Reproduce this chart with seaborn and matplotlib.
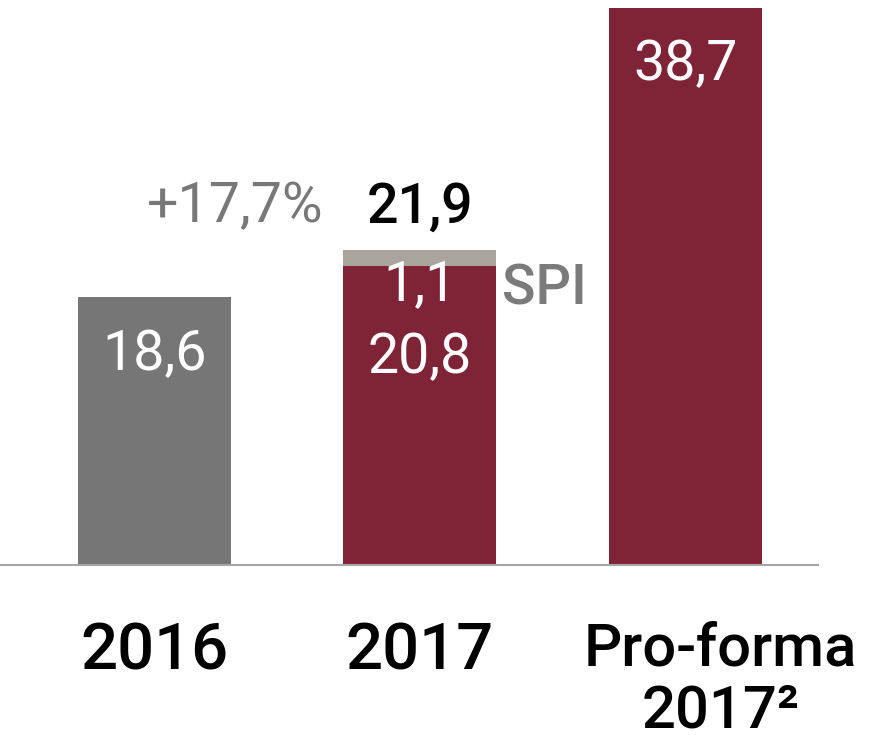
import matplotlib
matplotlib.use('Agg')
import matplotlib.pyplot as plt
import matplotlib.transforms as mtransforms
import pandas as pd
import seaborn as sns

sns.set_style('white')
plt.rcParams['font.family'] = ['Roboto', 'DejaVu Sans']

categories = ['2016', '2017', 'Pro-forma\n2017²']
base_values = [18.6, 20.8, 38.7]
spi_values = [0.0, 1.1, 0.0]
total_values = [b + s for b, s in zip(base_values, spi_values)]
base_labels = ['18,6', '20,8', '38,7']

GRAY = '#767676'
MAROON = '#7f2437'
SPI_COL = '#a9a49c'

df = pd.DataFrame({'cat': categories, 'base': base_values, 'total': total_values})

fig = plt.figure(figsize=(8.71, 7.46), dpi=100)
ax = fig.add_axes([0, (746 - 565) / 746, 818 / 871, 565 / 746])

# totals first (SPI shows on top), then base on top of it
sns.barplot(data=df, x='cat', y='total', hue='cat', legend=False,
            palette=[GRAY, SPI_COL, MAROON], width=0.576, saturation=1,
            linewidth=0, ax=ax)
sns.barplot(data=df, x='cat', y='base', hue='cat', legend=False,
            palette=[GRAY, MAROON, MAROON], width=0.576, saturation=1,
            linewidth=0, ax=ax)

ax.set_xlim(-0.582, 2.5)
ax.set_ylim(0, 39.26)
ax.set_xlabel('')
ax.set_ylabel('')
ax.set_yticks([])
for s in ['top', 'right', 'left']:
    ax.spines[s].set_visible(False)
ax.spines['bottom'].set_color('#a6a6a6')
ax.spines['bottom'].set_linewidth(1.5)

ax.tick_params(axis='x', length=0, pad=40, labelsize=47)
for lbl in ax.get_xticklabels():
    lbl.set_fontweight('medium')
    lbl.set_color('black')
    lbl.set_multialignment('center')
    lbl.set_linespacing(1.12)
last = ax.get_xticklabels()[2]
last.set_fontsize(43)
last.set_transform(last.get_transform() +
                   mtransforms.ScaledTranslation(0.35, 0, fig.dpi_scale_trans))

# values inside bars
label_y = [13.55, 13.34, 33.7]
for i, (txt, y) in enumerate(zip(base_labels, label_y)):
    ax.text(i, y, txt, ha='center', va='baseline', color='white', fontsize=40)

ax.text(1, 18.4, '1,1', ha='center', va='baseline', color='white', fontsize=40)
ax.text(1, 23.8, '21,9', ha='center', va='baseline', color='black',
        fontsize=40, fontweight='medium')
ax.text(0.303, 23.8, '+17,7%', ha='center', va='baseline', color='#787878',
        fontsize=40)
ax.text(1.47, 18.07, 'SPI', ha='center', va='baseline', color='#7b7b7b',
        fontsize=40, fontweight='medium')

fig.savefig('out.png', dpi=100)
